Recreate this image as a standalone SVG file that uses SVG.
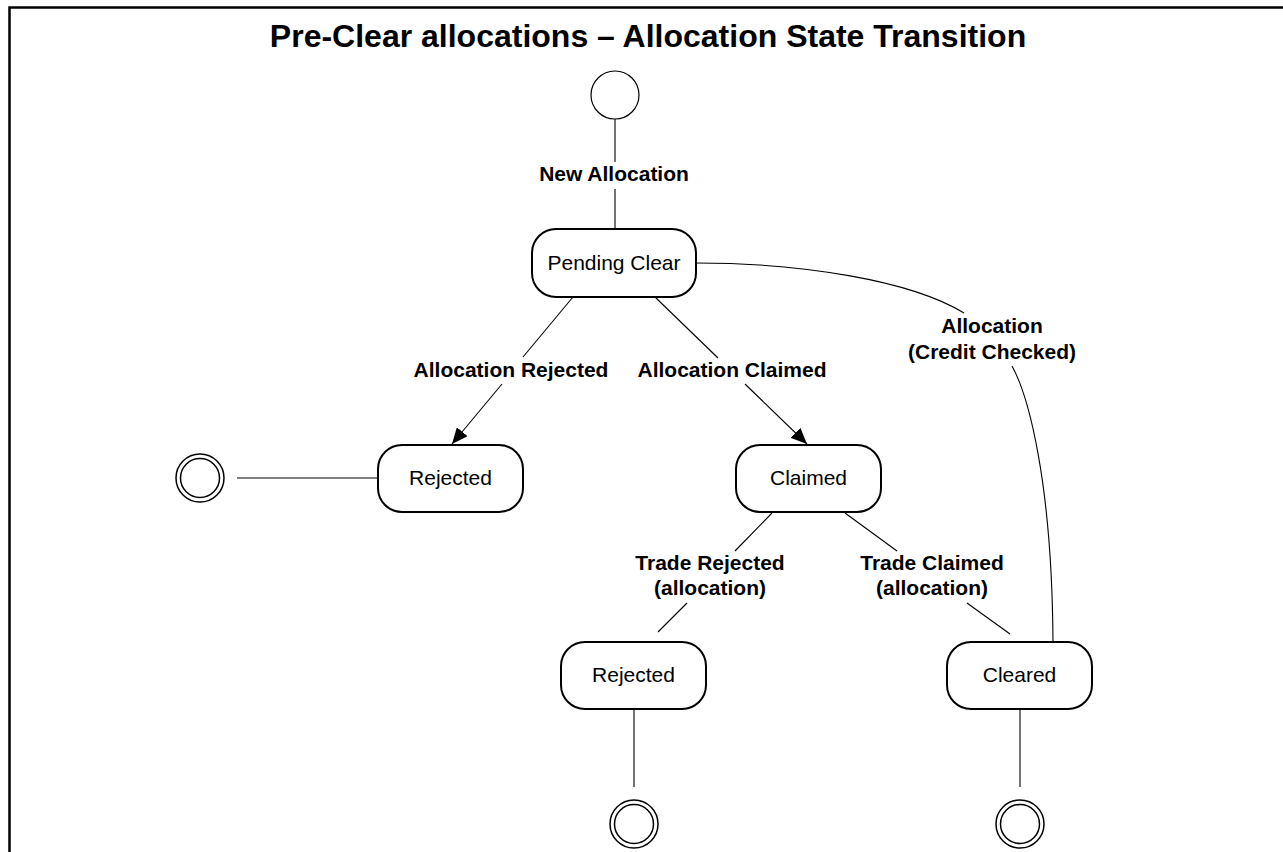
<svg xmlns="http://www.w3.org/2000/svg" width="1283" height="852" viewBox="0 0 1283 852">
  <style>
    .frame { fill: none; stroke: #000; stroke-width: 2.5; }
    .state { fill: #fff; stroke: #000; stroke-width: 2; }
    .start { fill: #fff; stroke: #000; stroke-width: 1.2; }
    .final { fill: #fff; stroke: #000; stroke-width: 1.5; }
    .conn { fill: none; stroke: #000; stroke-width: 1.1; }
    .title { font-family: "Liberation Sans", Arial, sans-serif; font-weight: bold; font-size: 32px; text-anchor: middle; fill: #000; }
    .name { font-family: "Liberation Sans", Arial, sans-serif; font-size: 21px; text-anchor: middle; fill: #000; }
    .label { font-family: "Liberation Sans", Arial, sans-serif; font-weight: bold; font-size: 21px; text-anchor: middle; fill: #000; }
  </style>
  <defs>
    <marker id="arrow" markerUnits="userSpaceOnUse" markerWidth="18" markerHeight="14" refX="16" refY="7" orient="auto">
      <path d="M0,0 L16,7 L0,14 Z" fill="#000"/>
    </marker>
  </defs>

  <rect width="1283" height="852" fill="#fff"/>
  <!-- frame: left and top edges only -->
  <path class="frame" d="M9.5,852 V7.5 H1283"/>

  <text class="title" x="648" y="47">Pre-Clear allocations – Allocation State Transition</text>

  <!-- transitions -->
  <g id="connectors">
    <line class="conn" x1="615" y1="119" x2="615" y2="162"/>
    <line class="conn" x1="615" y1="189" x2="615" y2="229"/>

    <line class="conn" x1="573" y1="297" x2="523" y2="357"/>
    <line class="conn" x1="502" y1="384" x2="452" y2="444" marker-end="url(#arrow)"/>

    <line class="conn" x1="655" y1="297" x2="718" y2="358"/>
    <line class="conn" x1="745" y1="384" x2="807" y2="444" marker-end="url(#arrow)"/>

    <path class="conn" d="M696,263 C800,263 910,280 964,313"/>
    <path class="conn" d="M1012,366 C1028,395 1052,480 1053,642"/>

    <line class="conn" x1="237" y1="478" x2="378" y2="478"/>

    <line class="conn" x1="772" y1="513" x2="735" y2="551"/>
    <line class="conn" x1="687" y1="603" x2="658" y2="632"/>

    <line class="conn" x1="845" y1="513" x2="897" y2="551"/>
    <line class="conn" x1="967" y1="603" x2="1010" y2="634"/>

    <line class="conn" x1="634" y1="709" x2="634" y2="787"/>
    <line class="conn" x1="1020" y1="709" x2="1020" y2="787"/>

    <text class="label" x="614" y="181">New Allocation</text>
    <text class="label" x="511" y="377">Allocation Rejected</text>
    <text class="label" x="732" y="377">Allocation Claimed</text>
    <text class="label" x="992" y="333">Allocation</text>
    <text class="label" x="992" y="359">(Credit Checked)</text>
    <text class="label" x="710" y="570">Trade Rejected</text>
    <text class="label" x="710" y="595">(allocation)</text>
    <text class="label" x="932" y="570">Trade Claimed</text>
    <text class="label" x="932" y="595">(allocation)</text>
  </g>

  <g id="start">
    <circle class="start" cx="615" cy="95" r="24"/>
  </g>

  <g id="pending-clear">
    <rect class="state" x="532" y="229" width="164" height="68" rx="24"/>
    <text class="name" x="614" y="270">Pending Clear</text>
  </g>

  <g id="rejected-allocation">
    <rect class="state" x="378" y="445" width="145" height="67" rx="24"/>
    <text class="name" x="450.5" y="485">Rejected</text>
  </g>

  <g id="end-rejected-allocation">
    <circle class="final" cx="200" cy="478" r="24"/>
    <circle class="final" cx="200" cy="478" r="19.5"/>
  </g>

  <g id="claimed">
    <rect class="state" x="736" y="445" width="145" height="67" rx="24"/>
    <text class="name" x="808.5" y="485">Claimed</text>
  </g>

  <g id="rejected-trade">
    <rect class="state" x="561" y="642" width="145" height="67" rx="24"/>
    <text class="name" x="633.5" y="682">Rejected</text>
  </g>

  <g id="cleared">
    <rect class="state" x="947" y="642" width="145" height="67" rx="24"/>
    <text class="name" x="1019.5" y="682">Cleared</text>
  </g>

  <g id="end-rejected-trade">
    <circle class="final" cx="634" cy="824" r="24"/>
    <circle class="final" cx="634" cy="824" r="19.5"/>
  </g>

  <g id="end-cleared">
    <circle class="final" cx="1020" cy="824" r="24"/>
    <circle class="final" cx="1020" cy="824" r="19.5"/>
  </g>
</svg>
